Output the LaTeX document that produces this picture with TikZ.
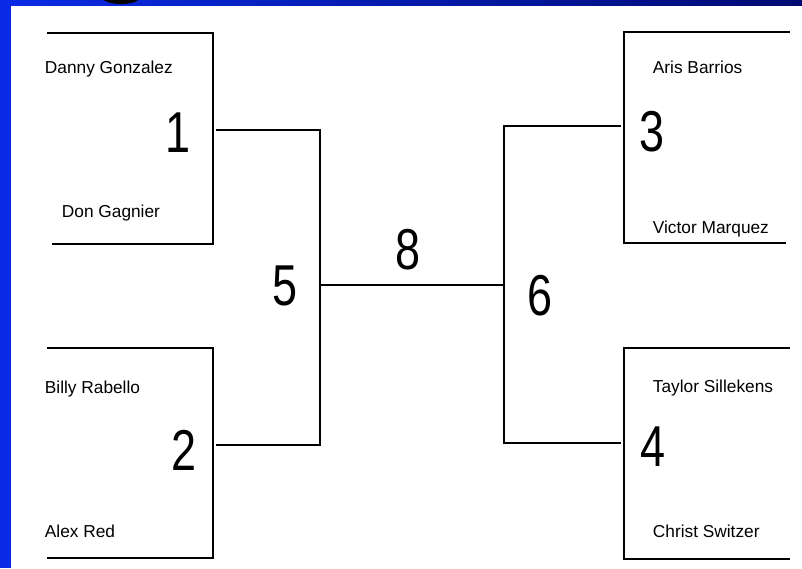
\documentclass[tikz,border=0pt]{standalone}
\usepackage{fontspec}
\setmainfont{Liberation Sans}
\newfontfamily\seedfont[FakeStretch=0.78]{Liberation Sans}
\usetikzlibrary{positioning}
\definecolor{slideblue}{HTML}{0A2BE6}
\definecolor{slidenavy}{HTML}{000A72}

\begin{document}
\begin{tikzpicture}[x=0.025cm, y=-0.025cm, line width=1.3pt,
    player/.style={anchor=base west, inner sep=0pt, font=\fontsize{12.3}{14}\selectfont},
    seed/.style={inner sep=0pt, font=\seedfont\fontsize{41}{41}\selectfont}]
    \useasboundingbox (0,0) rectangle (802,568);
    % slide frame
    \fill[left color=slideblue, right color=slidenavy] (0,0) rectangle (802,5);
    \fill[slideblue] (0,0) rectangle (11,568);
    \begin{scope}
      \clip (0,0) rectangle (802,5);
      \fill[black] (121,-3) ellipse[x radius=19, y radius=7];
    \end{scope}
    % brackets
    \draw (47,33) -- (213,33) -- (213,244) -- (52,244);
    \draw (47,348) -- (213,348) -- (213,558) -- (47,558);
    \draw (790,32) -- (624,32) -- (624,243) -- (786,243);
    \draw (790,348) -- (624,348) -- (624,559) -- (790,559);
    % players
    \node[player] (dg) at (44,73) {Danny Gonzalez};
    \node[player] (dn) at (61,217) {Don Gagnier};
    \node[player] (br) at (44,393) {Billy Rabello};
    \node[player] (ar) at (44,537) {Alex Red};
    \node[player] (ab) at (652,73) {Aris Barrios};
    \node[player] (vm) at (652,233) {Victor Marquez};
    \node[player] (ts) at (652,392) {Taylor Sillekens};
    \node[player] (cs) at (652,537) {Christ Switzer};
    % seeds
    \node[seed] (g1) at (178,133) {1};
    \node[seed] (g2) at (184,450) {2};
    \node[seed] (g3) at (652,132) {3};
    \node[seed] (g4) at (653,447) {4};
    \node[seed] (g5) at (285,286) {5};
    \node[seed] (g6) at (540,296) {6};
    \node[seed] (g8) at (408,250) {8};
    % connectors
    \coordinate (q1) at (216,130);
    \coordinate (q2) at (216,445);
    \coordinate (q3) at (621,126);
    \coordinate (q4) at (621,443);
    \coordinate (s5) at (320,285);
    \coordinate (s6) at (504,285);
    \draw (q1) -- (q1 -| s5) -- (q2 -| s5) -- (q2);
    \draw (q3) -- (q3 -| s6) -- (q4 -| s6) -- (q4);
    \draw (s5) -- (s6);
\end{tikzpicture}
\end{document}
